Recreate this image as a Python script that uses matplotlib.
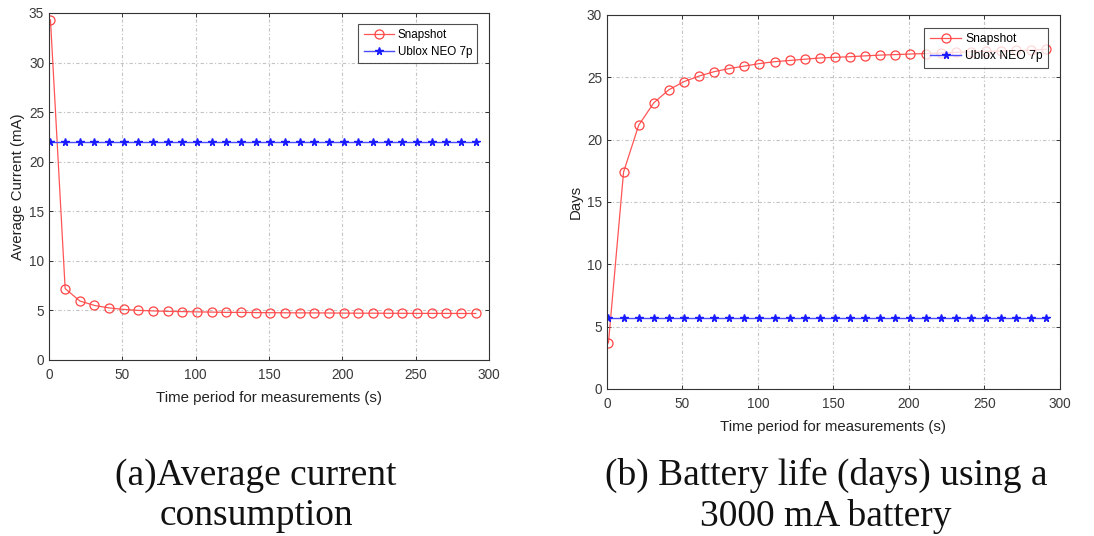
import matplotlib.pyplot as plt

# measurement periods (s)
period = [1, 11, 21, 31, 41, 51, 61, 71, 81, 91, 101, 111, 121, 131, 141,
          151, 161, 171, 181, 191, 201, 211, 221, 231, 241, 251, 261, 271, 281, 291]

# average current (mA)
snap_current = [34.3, 7.2, 5.95, 5.5, 5.25, 5.1, 5.0, 4.95, 4.9, 4.88,
                4.85, 4.83, 4.8, 4.8, 4.78, 4.77, 4.76, 4.75, 4.75, 4.74,
                4.73, 4.72, 4.72, 4.71, 4.71, 4.7, 4.7, 4.7, 4.69, 4.69]
ublox_current = [22.0] * 30

# battery life (days) with 3000 mA battery
snap_days = [3.7, 17.4, 21.15, 22.95, 24.0, 24.65, 25.1, 25.45, 25.7, 25.9,
             26.1, 26.25, 26.35, 26.45, 26.55, 26.6, 26.65, 26.72, 26.78, 26.82,
             26.87, 26.9, 26.95, 27.0, 27.05, 27.08, 27.1, 27.15, 27.18, 27.25]
ublox_days = [5.7] * 30

plt.rcParams['font.family'] = ['Liberation Sans', 'DejaVu Sans']

fig = plt.figure(figsize=(10.94, 5.36), dpi=100)
ax1 = fig.add_axes([0.0448, 0.3284, 0.4022, 0.6474])
ax2 = fig.add_axes([0.5548, 0.2743, 0.4141, 0.6978])

def style(ax, snap, ublox, ymax, ylabel, anchor, legsize):
    ax.plot(period, snap, color='#ff5555', lw=0.9, marker='o', ms=6.5,
            mfc='none', mec='#ff4444', mew=0.9, label='Snapshot')
    ax.plot(period, ublox, color='#4a4aff', lw=1.0, marker='*', ms=5.5,
            mfc='#1a1aff', mec='#1a1aff', label='Ublox NEO 7p')
    ax.set_xlim(0, 300)
    ax.set_ylim(0, ymax)
    ax.set_xticks(range(0, 301, 50))
    ax.set_yticks(range(0, ymax + 1, 5))
    ax.grid(True, color='#c4c4c4', lw=0.8, ls=(0, (3, 2, 1, 2)))
    ax.tick_params(direction='in', top=True, right=True, length=3,
                   labelsize=9.8, colors='#333333', labelcolor='#3a3a3a', width=0.7)
    ax.tick_params(axis='x', pad=6)
    for s in ax.spines.values():
        s.set_color('#333333')
        s.set_linewidth(0.8)
    ax.set_xlabel('Time period for measurements (s)', fontsize=10.8,
                  color='#222222', labelpad=6)
    ax.set_ylabel(ylabel, fontsize=10.8, color='#222222', labelpad=3)
    leg = ax.legend(loc='upper right', bbox_to_anchor=anchor, fontsize=legsize,
                    fancybox=False, edgecolor='#222222', handlelength=2.6,
                    borderpad=0.45, labelspacing=0.4, handletextpad=0.3,
                    borderaxespad=0)
    leg.get_frame().set_linewidth(0.8)

style(ax1, snap_current, ublox_current, 35, 'Average Current (mA)', (0.973, 0.968), 8.4)
style(ax2, snap_days, ublox_days, 30, 'Days', (0.9735, 0.965), 8.7)

cap = dict(family=['Liberation Serif', 'DejaVu Serif'], fontsize=27,
           ha='center', va='center', color='#111111', linespacing=1.2)
fig.text(0.234, 0.075, '(a)Average current\nconsumption', **cap)
fig.text(0.755, 0.075, '(b) Battery life (days) using a\n3000 mA battery', **cap)

plt.savefig('out.png', dpi=100)
